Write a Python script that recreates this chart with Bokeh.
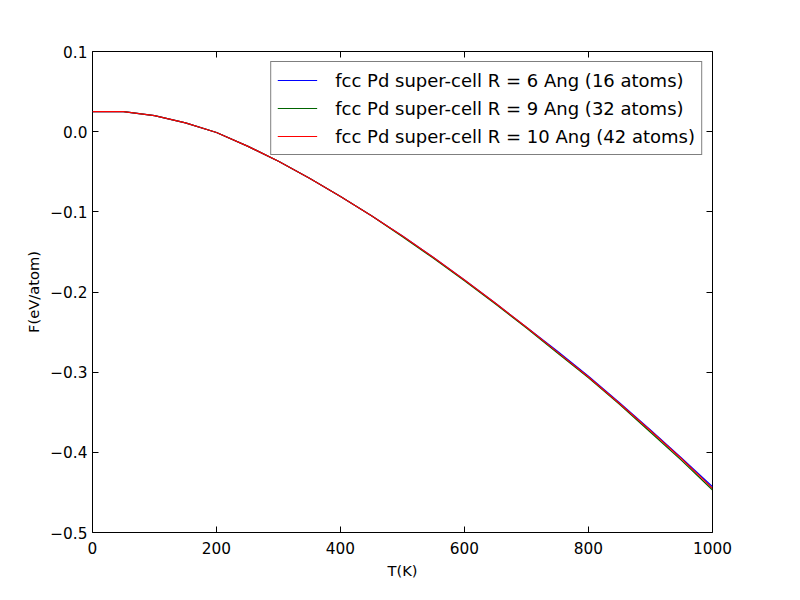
from bokeh.plotting import figure
from bokeh.models import LinearAxis, Range1d, Legend, LegendItem
from bokeh.embed import file_html
from bokeh.resources import INLINE

T = [0, 50, 100, 150, 200, 250, 300, 350, 400, 450, 500, 550, 600, 650, 700, 750, 800, 850, 900, 950, 1000]
F_16 = [0.025, 0.025, 0.020, 0.011, -0.001, -0.018, -0.037, -0.058, -0.081, -0.105, -0.130,
        -0.157, -0.185, -0.214, -0.244, -0.274, -0.305, -0.338, -0.372, -0.407, -0.443]
F_32 = [0.025, 0.025, 0.020, 0.011, -0.001, -0.018, -0.037, -0.058, -0.081, -0.105, -0.131,
        -0.158, -0.186, -0.215, -0.245, -0.276, -0.307, -0.340, -0.375, -0.410, -0.447]
F_42 = [0.025, 0.025, 0.020, 0.011, -0.001, -0.018, -0.037, -0.058, -0.081, -0.105, -0.130,
        -0.157, -0.185, -0.214, -0.244, -0.275, -0.306, -0.339, -0.373, -0.408, -0.445]
labels = ["fcc Pd super-cell R = 6 Ang (16 atoms)",
          "fcc Pd super-cell R = 9 Ang (32 atoms)",
          "fcc Pd super-cell R = 10 Ang (42 atoms)"]
colors = ["blue", "#006400", "red"]
x_ticks = [0, 200, 400, 600, 800, 1000]
y_ticks = [0.1, 0.0, -0.1, -0.2, -0.3, -0.4, -0.5]
y_tick_labels = ["0.1", "0.0", "−0.1", "−0.2", "−0.3", "−0.4", "−0.5"]

p = figure(width=784, height=584, output_backend="svg", toolbar_location=None,
           x_range=Range1d(0, 1000), y_range=Range1d(-0.5, 0.1),
           min_border_left=92, min_border_right=72, min_border_top=51, min_border_bottom=52)
p.grid.visible = False
p.outline_line_color = "black"
p.xaxis.axis_label = "T(K)"
p.yaxis.axis_label = "F(eV/atom)"

for ax in [p.xaxis[0], p.yaxis[0]]:
    ax.axis_label_text_font = "DejaVu Sans"
    ax.axis_label_text_font_style = "normal"
    ax.axis_label_text_font_size = "11pt"
    ax.axis_label_text_color = "black"
    ax.major_label_text_font = "DejaVu Sans"
    ax.major_label_text_font_size = "11.5pt"
    ax.major_label_text_color = "black"

right = LinearAxis(ticker=y_ticks, major_label_overrides={t: "" for t in y_ticks})
top = LinearAxis(ticker=x_ticks, major_label_overrides={t: "" for t in x_ticks})
p.add_layout(right, "right")
p.add_layout(top, "above")
for ax in p.axis:
    ax.major_tick_in = 6
    ax.major_tick_out = 0
    ax.major_tick_line_color = "black"
    ax.minor_tick_line_color = None
    ax.axis_line_color = None
p.xaxis[0].ticker = x_ticks
p.yaxis[0].ticker = y_ticks
p.yaxis[0].major_label_overrides = dict(zip(y_ticks, y_tick_labels))

items = []
for ys, lab, c in zip([F_16, F_32, F_42], labels, colors):
    r = p.line(T, ys, line_color=c, line_width=1.2)
    items.append(LegendItem(label=lab, renderers=[r]))

leg = Legend(items=items, location="top_right", label_text_font="DejaVu Sans",
             label_text_font_size="13.5pt", label_text_color="black",
             border_line_color="black", glyph_width=40, glyph_height=24, label_height=24,
             spacing=4, padding=6, margin=10, label_standoff=18)
p.add_layout(leg)

open("out.html", "w").write(file_html(p, INLINE))
